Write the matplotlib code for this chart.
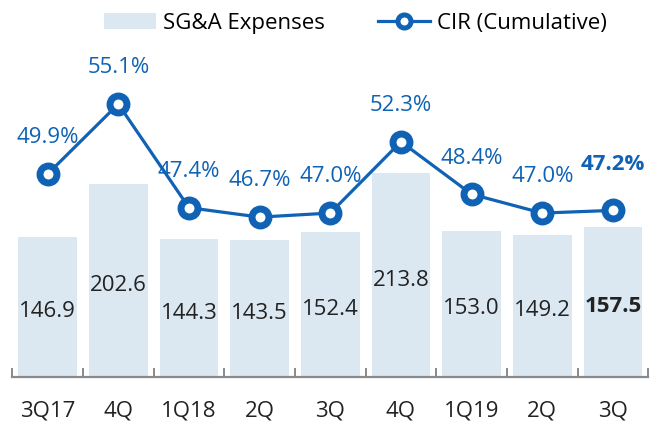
import numpy as np
import matplotlib
matplotlib.use("Agg")
import matplotlib.pyplot as plt
from matplotlib.lines import Line2D
from matplotlib.patches import Patch

plt.rcParams['font.family'] = ['Open Sans', 'DejaVu Sans']

categories = ["3Q17", "4Q", "1Q18", "2Q", "3Q", "4Q", "1Q19", "2Q", "3Q"]
sga_expenses = [146.9, 202.6, 144.3, 143.5, 152.4, 213.8, 153.0, 149.2, 157.5]
cir_cumulative = [49.9, 55.1, 47.4, 46.7, 47.0, 52.3, 48.4, 47.0, 47.2]

BAR_COLOR = '#DCE8F1'
BLUE = '#0F62B4'
TEXT_DARK = '#222222'
AXIS_GRAY = '#8A8A8A'

fig = plt.figure(figsize=(6.6, 4.25), dpi=100)
ax = fig.add_axes([0.0186, 0.1129, 0.9636, 0.7929])

x = np.arange(len(categories))
ax.bar(x, sga_expenses, width=0.83, color=BAR_COLOR, zorder=1)
ax.set_xlim(-0.5, len(categories) - 0.5)
ax.set_ylim(0, 353.6)

for i, v in enumerate(sga_expenses):
    last = i == len(sga_expenses) - 1
    ax.annotate(f"{v:.1f}", (i, v / 2), xytext=(0, -3.5), textcoords='offset points',
                ha='center', va='center', fontsize=16,
                color=TEXT_DARK, fontweight='bold' if last else 'normal', zorder=3)

for s in ['top', 'right', 'left']:
    ax.spines[s].set_visible(False)
ax.spines['bottom'].set_color(AXIS_GRAY)
ax.spines['bottom'].set_linewidth(1.6)
ax.set_yticks([])
ax.set_xticks(x)
ax.set_xticklabels(categories, fontsize=16, color=TEXT_DARK)
ax.tick_params(axis='x', which='major', length=0, pad=17)
ax.set_xticks(np.arange(-0.5, len(categories), 1.0), minor=True)
ax.tick_params(axis='x', which='minor', direction='in', length=6.5, width=1.4, color=AXIS_GRAY)

ax2 = ax.twinx()
ax2.set_ylim(34.82, 59.855)
ax2.plot(x, cir_cumulative, color=BLUE, lw=2.3, marker='o', ms=12.2, mew=5,
         mfc='white', mec=BLUE, zorder=4)
ax2.axis('off')

for i, c in enumerate(cir_cumulative):
    last = i == len(cir_cumulative) - 1
    ax2.annotate(f"{c:.1f}%", (i, c), xytext=(0, 33 if last else 26),
                 textcoords='offset points',
                 ha='center', va='center', fontsize=16, color=BLUE,
                 fontweight='bold' if last else 'normal')

handles = [Patch(facecolor=BAR_COLOR, edgecolor='none'),
           Line2D([], [], color=BLUE, lw=2.3, marker='o', ms=9.4, mew=3.6,
                  mfc='white', mec=BLUE)]
fig.legend(handles, ["SG&A Expenses", "CIR (Cumulative)"], loc='center',
           bbox_to_anchor=(0.538, 0.945), ncol=2, frameon=False, fontsize=16,
           handlelength=2.35, handleheight=0.75, handletextpad=0.3,
           columnspacing=2.4, borderpad=0, borderaxespad=0)

fig.text(0.005, 1 + 3 / 425, "(KRW billion)", fontsize=16, color=TEXT_DARK,
         ha='left', va='baseline')

fig.savefig("out.png", dpi=100)
